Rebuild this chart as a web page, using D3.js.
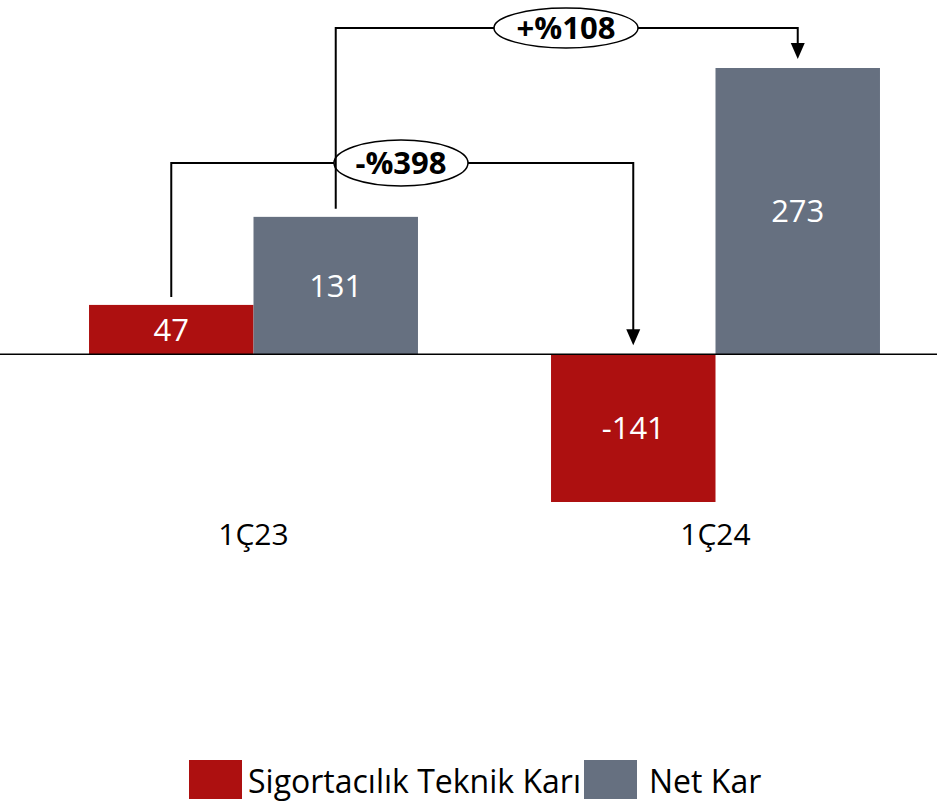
<!DOCTYPE html>
<html>
<head>
<meta charset="utf-8">
<script src="https://cdn.jsdelivr.net/npm/d3@7"></script>
<style>
  html, body { margin: 0; padding: 0; background: #fff; }
  svg { display: block; font-family: "Open Sans", "Noto Sans", sans-serif; }
</style>
</head>
<body>
<svg id="chart"></svg>
<script>
const categories = ['1Ç23', '1Ç24'];
const seriesNames = ['Sigortacılık Teknik Karı', 'Net Kar'];
const teknikKar = [47, -141];
const netKar = [131, 273];
const changeLabels = ['-%398', '+%108'];

const colors = { 'Sigortacılık Teknik Karı': '#ad1010', 'Net Kar': '#667080' };

const width = 937;
const height = 803;

const svg = d3.select('#chart').attr('width', width).attr('height', height);

const x0 = d3.scaleBand()
  .domain(categories)
  .range([22.5, 946.5])
  .paddingInner(0.288)
  .paddingOuter(0.144);

const x1 = d3.scaleBand()
  .domain(seriesNames)
  .range([0, x0.bandwidth()]);

const y = d3.scaleLinear()
  .domain([-141, 273])
  .range([502, 68]);

const rows = categories.map((c, i) => ({
  cat: c,
  values: [
    { name: seriesNames[0], value: teknikKar[i] },
    { name: seriesNames[1], value: netKar[i] }
  ]
}));

// bars
const groups = svg.append('g')
  .selectAll('g')
  .data(rows)
  .join('g')
  .attr('transform', d => `translate(${x0(d.cat)},0)`);

groups.selectAll('rect')
  .data(d => d.values)
  .join('rect')
  .attr('x', d => x1(d.name))
  .attr('y', d => y(Math.max(0, d.value)))
  .attr('width', x1.bandwidth())
  .attr('height', d => Math.abs(y(d.value) - y(0)))
  .attr('fill', d => colors[d.name]);

groups.selectAll('text')
  .data(d => d.values)
  .join('text')
  .attr('x', d => x1(d.name) + x1.bandwidth() / 2)
  .attr('y', d => (y(d.value) + y(0)) / 2)
  .attr('dy', '0.36em')
  .attr('text-anchor', 'middle')
  .attr('fill', '#fff')
  .attr('font-size', 31)
  .text(d => d.value);

// zero line
svg.append('line')
  .attr('x1', 0).attr('x2', width)
  .attr('y1', y(0)).attr('y2', y(0))
  .attr('stroke', '#000')
  .attr('stroke-width', 1.5);

// category labels
svg.append('g')
  .selectAll('text')
  .data(categories)
  .join('text')
  .attr('x', d => x0(d) + x0.bandwidth() / 2)
  .attr('y', 545)
  .attr('text-anchor', 'middle')
  .attr('font-size', 30)
  .attr('fill', '#000')
  .text(d => d);

// change annotations
const cx = (cat, s) => x0(cat) + x1(s) + x1.bandwidth() / 2;
const annotations = [
  { series: seriesNames[0], level: 163, label: changeLabels[0], rx: 67, ry: 23, labelX: 401 },
  { series: seriesNames[1], level: 28, label: changeLabels[1], rx: 72, ry: 20, labelX: 566 }
];

const ann = svg.append('g');
annotations.forEach(a => {
  const from = a.series === seriesNames[0] ? teknikKar[0] : netKar[0];
  const to = a.series === seriesNames[0] ? teknikKar[1] : netKar[1];
  const xs = cx(categories[0], a.series);
  const xe = cx(categories[1], a.series);
  const ys = y(Math.max(0, from)) - 8;
  const ye = y(Math.max(0, to)) - 9;
  ann.append('path')
    .attr('d', `M${xs},${ys} V${a.level} H${xe} V${ye - 14}`)
    .attr('fill', 'none')
    .attr('stroke', '#000')
    .attr('stroke-width', 2);
  ann.append('path')
    .attr('d', `M${xe - 7},${ye - 16} L${xe + 7},${ye - 16} L${xe},${ye} Z`)
    .attr('fill', '#000');
  ann.append('ellipse')
    .attr('cx', a.labelX).attr('cy', a.level)
    .attr('rx', a.rx).attr('ry', a.ry)
    .attr('fill', '#fff')
    .attr('stroke', '#000')
    .attr('stroke-width', 1.5);
  ann.append('text')
    .attr('x', a.labelX).attr('y', a.level)
    .attr('dy', '0.36em')
    .attr('text-anchor', 'middle')
    .attr('font-size', 31)
    .attr('font-weight', 'bold')
    .text(a.label);
});

// legend
const legendItems = [
  { name: seriesNames[0], x: 189 },
  { name: seriesNames[1], x: 584 }
];
const legend = svg.append('g')
  .selectAll('g')
  .data(legendItems)
  .join('g')
  .attr('transform', d => `translate(${d.x},760)`);
legend.append('rect')
  .attr('width', 53).attr('height', 39)
  .attr('fill', d => colors[d.name]);
legend.append('text')
  .attr('x', (d, i) => i === 0 ? 59 : 65)
  .attr('y', 33)
  .attr('font-size', 32)
  .attr('fill', '#000')
  .text(d => d.name);
</script>
</body>
</html>
